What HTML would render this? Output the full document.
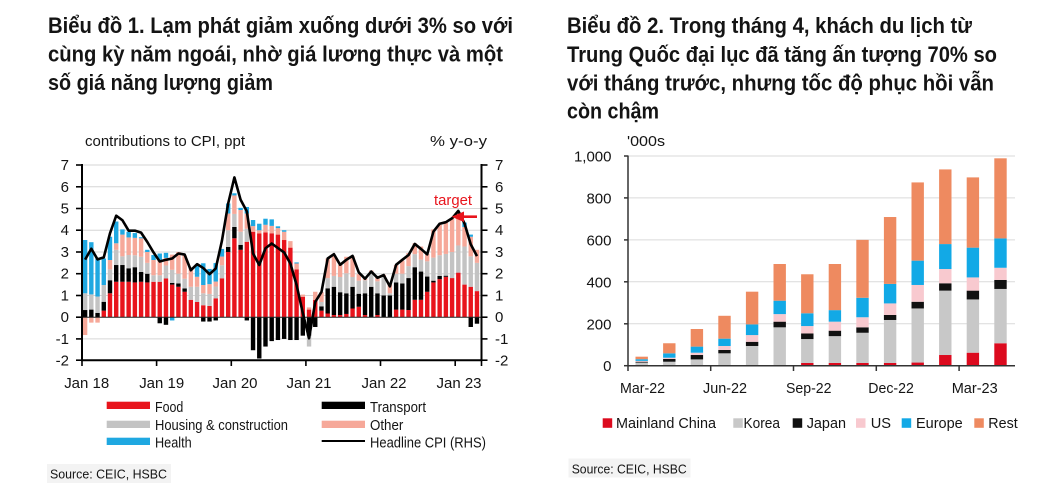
<!DOCTYPE html>
<html><head><meta charset="utf-8">
<style>
html,body{margin:0;padding:0;background:#fff;}
svg{display:block;}
text{font-family:"Liberation Sans","DejaVu Sans",Arial,sans-serif;}
.t{font-weight:bold;font-size:22px;fill:#141414;}
.a{font-size:15px;fill:#141414;}
.s{font-size:13px;fill:#141414;}
</style></head><body>
<svg id="s" width="1046" height="488" viewBox="0 0 1046 488" xmlns="http://www.w3.org/2000/svg">
<rect width="1046" height="488" fill="#fff"/>

<!-- Titles -->
<text class="t" x="48" y="33" textLength="465" lengthAdjust="spacingAndGlyphs">Biểu đồ 1. Lạm phát giảm xuống dưới 3% so với</text>
<text class="t" x="48" y="61.5" textLength="455" lengthAdjust="spacingAndGlyphs">cùng kỳ năm ngoái, nhờ giá lương thực và một</text>
<text class="t" x="48" y="90" textLength="225" lengthAdjust="spacingAndGlyphs">số giá năng lượng giảm</text>

<text class="t" x="567" y="33" textLength="405" lengthAdjust="spacingAndGlyphs">Biểu đồ 2. Trong tháng 4, khách du lịch từ</text>
<text class="t" x="567" y="62" textLength="430" lengthAdjust="spacingAndGlyphs">Trung Quốc đại lục đã tăng ấn tượng 70% so</text>
<text class="t" x="567" y="90.5" textLength="427" lengthAdjust="spacingAndGlyphs">với tháng trước, nhưng tốc độ phục hồi vẫn</text>
<text class="t" x="567" y="118.5" textLength="92" lengthAdjust="spacingAndGlyphs">còn chậm</text>

<!-- LEFT CHART -->
<text class="a" x="85" y="146" textLength="160" lengthAdjust="spacingAndGlyphs">contributions to CPI, ppt</text>
<text class="a" x="430" y="146" textLength="57" lengthAdjust="spacingAndGlyphs">% y-o-y</text>

<g stroke="#d6d6d6" stroke-width="1">
<line x1="82" x2="481.5" y1="165" y2="165"/>
<line x1="82" x2="481.5" y1="186.8" y2="186.8"/>
<line x1="82" x2="481.5" y1="208.5" y2="208.5"/>
<line x1="82" x2="481.5" y1="230.2" y2="230.2"/>
<line x1="82" x2="481.5" y1="252" y2="252"/>
<line x1="82" x2="481.5" y1="273.7" y2="273.7"/>
<line x1="82" x2="481.5" y1="295.5" y2="295.5"/>
<line x1="82" x2="481.5" y1="338.9" y2="338.9"/>
</g>
<g id="lbars"></g>
<line x1="82" x2="481.5" y1="317.2" y2="317.2" stroke="#222" stroke-width="1"/>
<polyline id="cpi" fill="none" stroke="#000" stroke-width="2.6" stroke-linejoin="round"/>

<!-- left axes -->
<g stroke="#000" stroke-width="2">
<line x1="82" x2="82" y1="164" y2="361"/>
<line x1="481.5" x2="481.5" y1="164" y2="361"/>
<line x1="81" x2="482.5" y1="360.2" y2="360.2"/>
</g>
<g stroke="#000" stroke-width="1.6">
<line x1="76" x2="82" y1="165" y2="165"/><line x1="76" x2="82" y1="186.8" y2="186.8"/><line x1="76" x2="82" y1="208.5" y2="208.5"/><line x1="76" x2="82" y1="230.2" y2="230.2"/><line x1="76" x2="82" y1="252" y2="252"/><line x1="76" x2="82" y1="273.7" y2="273.7"/><line x1="76" x2="82" y1="295.5" y2="295.5"/><line x1="76" x2="82" y1="317.2" y2="317.2"/><line x1="76" x2="82" y1="338.9" y2="338.9"/><line x1="76" x2="82" y1="360.2" y2="360.2"/>
<line x1="481.5" x2="487.5" y1="165" y2="165"/><line x1="481.5" x2="487.5" y1="186.8" y2="186.8"/><line x1="481.5" x2="487.5" y1="208.5" y2="208.5"/><line x1="481.5" x2="487.5" y1="230.2" y2="230.2"/><line x1="481.5" x2="487.5" y1="252" y2="252"/><line x1="481.5" x2="487.5" y1="273.7" y2="273.7"/><line x1="481.5" x2="487.5" y1="295.5" y2="295.5"/><line x1="481.5" x2="487.5" y1="317.2" y2="317.2"/><line x1="481.5" x2="487.5" y1="338.9" y2="338.9"/><line x1="481.5" x2="487.5" y1="360.2" y2="360.2"/>
<line x1="82" x2="82" y1="360" y2="366"/><line x1="156.6" x2="156.6" y1="360" y2="366"/><line x1="231.3" x2="231.3" y1="360" y2="366"/><line x1="305.9" x2="305.9" y1="360" y2="366"/><line x1="380.5" x2="380.5" y1="360" y2="366"/><line x1="455.2" x2="455.2" y1="360" y2="366"/><line x1="481.5" x2="481.5" y1="360" y2="366"/>
</g>
<g class="a" text-anchor="end">
<text x="69" y="170">7</text><text x="69" y="191.8">6</text><text x="69" y="213.5">5</text><text x="69" y="235.2">4</text><text x="69" y="257">3</text><text x="69" y="278.7">2</text><text x="69" y="300.5">1</text><text x="69" y="322.2">0</text><text x="69" y="343.9">-1</text><text x="69" y="365.5">-2</text>
</g>
<g class="a" text-anchor="start">
<text x="495" y="170">7</text><text x="495" y="191.8">6</text><text x="495" y="213.5">5</text><text x="495" y="235.2">4</text><text x="495" y="257">3</text><text x="495" y="278.7">2</text><text x="495" y="300.5">1</text><text x="495" y="322.2">0</text><text x="495" y="343.9">-1</text><text x="495" y="365.5">-2</text>
</g>
<g class="a">
<text x="64.2" y="388" textLength="45" lengthAdjust="spacingAndGlyphs">Jan 18</text>
<text x="139.2" y="388" textLength="45" lengthAdjust="spacingAndGlyphs">Jan 19</text>
<text x="212.5" y="388" textLength="45" lengthAdjust="spacingAndGlyphs">Jan 20</text>
<text x="286.5" y="388" textLength="45" lengthAdjust="spacingAndGlyphs">Jan 21</text>
<text x="361.5" y="388" textLength="45" lengthAdjust="spacingAndGlyphs">Jan 22</text>
<text x="436.5" y="388" textLength="45" lengthAdjust="spacingAndGlyphs">Jan 23</text>
</g>

<!-- target annotation -->
<text x="434" y="205" font-size="15" fill="#e8141c" textLength="38" lengthAdjust="spacingAndGlyphs">target</text>
<line x1="462" x2="477" y1="216.7" y2="216.7" stroke="#e8141c" stroke-width="2.6"/>
<polygon points="451.5,216.7 464,211.5 464,222" fill="#e8141c"/>

<!-- left legend -->
<rect x="106.7" y="401.7" width="43.3" height="7.3" fill="#e8141c"/>
<rect x="106.7" y="420.7" width="43.3" height="7.3" fill="#c3c3c3"/>
<rect x="106.7" y="437.7" width="43.3" height="7.3" fill="#1fa8e1"/>
<rect x="321.7" y="401.7" width="43.3" height="7.3" fill="#000"/>
<rect x="321.7" y="420.7" width="43.3" height="7.3" fill="#f6a899"/>
<line x1="321.7" x2="365" y1="441" y2="441" stroke="#000" stroke-width="2"/>
<g class="a">
<text x="155" y="412" textLength="28.3" lengthAdjust="spacingAndGlyphs">Food</text>
<text x="155" y="430" textLength="133" lengthAdjust="spacingAndGlyphs">Housing &amp; construction</text>
<text x="155" y="447.5" textLength="36.7" lengthAdjust="spacingAndGlyphs">Health</text>
<text x="370" y="412" textLength="56" lengthAdjust="spacingAndGlyphs">Transport</text>
<text x="370" y="430" textLength="33.3" lengthAdjust="spacingAndGlyphs">Other</text>
<text x="370" y="447.5" textLength="116" lengthAdjust="spacingAndGlyphs">Headline CPI (RHS)</text>
</g>
<rect x="47" y="464" width="124" height="19" fill="#f3f3f3"/>
<text class="s" x="50" y="478.5" textLength="117" lengthAdjust="spacingAndGlyphs">Source: CEIC, HSBC</text>

<!-- RIGHT CHART -->
<text class="a" x="627" y="146" font-size="14.5" textLength="38" lengthAdjust="spacingAndGlyphs">'000s</text>
<g stroke="#dadada" stroke-width="1">
<line x1="628" x2="1015" y1="156" y2="156"/>
<line x1="628" x2="1015" y1="197.9" y2="197.9"/>
<line x1="628" x2="1015" y1="239.9" y2="239.9"/>
<line x1="628" x2="1015" y1="281.8" y2="281.8"/>
<line x1="628" x2="1015" y1="323.8" y2="323.8"/>
</g>
<g id="rbars"></g>
<g stroke="#333" stroke-width="1.5">
<line x1="628" x2="628" y1="155.5" y2="366"/>
<line x1="627.3" x2="1015" y1="365.7" y2="365.7"/>
<line x1="624" x2="628" y1="156" y2="156"/><line x1="624" x2="628" y1="197.9" y2="197.9"/><line x1="624" x2="628" y1="239.9" y2="239.9"/><line x1="624" x2="628" y1="281.8" y2="281.8"/><line x1="624" x2="628" y1="323.8" y2="323.8"/><line x1="624" x2="628" y1="365.7" y2="365.7"/>
<line x1="628" x2="628" y1="365.7" y2="371"/><line x1="710.7" x2="710.7" y1="365.7" y2="371"/><line x1="793.5" x2="793.5" y1="365.7" y2="371"/><line x1="876.3" x2="876.3" y1="365.7" y2="371"/><line x1="959.1" x2="959.1" y1="365.7" y2="371"/>
</g>
<g class="a" text-anchor="end">
<text x="611.5" y="161.5">1,000</text>
<text x="611.5" y="203.4">800</text>
<text x="611.5" y="245.4">600</text>
<text x="611.5" y="287.3">400</text>
<text x="611.5" y="329.3">200</text>
<text x="611.5" y="371.2">0</text>
</g>
<g class="a">
<text x="620" y="393" textLength="45" lengthAdjust="spacingAndGlyphs">Mar-22</text>
<text x="703" y="393" textLength="44" lengthAdjust="spacingAndGlyphs">Jun-22</text>
<text x="786" y="393" textLength="45.5" lengthAdjust="spacingAndGlyphs">Sep-22</text>
<text x="868.3" y="393" textLength="45.5" lengthAdjust="spacingAndGlyphs">Dec-22</text>
<text x="951.7" y="393" textLength="46" lengthAdjust="spacingAndGlyphs">Mar-23</text>
</g>
<!-- right legend -->
<rect x="602.7" y="418.3" width="9.5" height="9.5" fill="#dc0a1e"/>
<rect x="733.3" y="418.3" width="9.5" height="9.5" fill="#c8c8c8"/>
<rect x="792.7" y="418.3" width="9.5" height="9.5" fill="#111"/>
<rect x="856" y="418.3" width="9.5" height="9.5" fill="#f8c9cf"/>
<rect x="901.7" y="418.3" width="9.5" height="9.5" fill="#12a9e6"/>
<rect x="974.3" y="418.3" width="9.5" height="9.5" fill="#ee8a60"/>
<g class="a">
<text x="616" y="428" textLength="100" lengthAdjust="spacingAndGlyphs">Mainland China</text>
<text x="743.5" y="428" textLength="36.5" lengthAdjust="spacingAndGlyphs">Korea</text>
<text x="806.7" y="428" textLength="39.3" lengthAdjust="spacingAndGlyphs">Japan</text>
<text x="870.7" y="428" textLength="20.3" lengthAdjust="spacingAndGlyphs">US</text>
<text x="916" y="428" textLength="46.7" lengthAdjust="spacingAndGlyphs">Europe</text>
<text x="988.3" y="428" textLength="29.4" lengthAdjust="spacingAndGlyphs">Rest</text>
</g>
<rect x="568.5" y="458.5" width="122" height="19" fill="#f3f3f3"/>
<text class="s" x="571.7" y="473.5" textLength="115" lengthAdjust="spacingAndGlyphs">Source: CEIC, HSBC</text>
</svg>
<script>
(function(){
var NS="http://www.w3.org/2000/svg";
function R(g,x,y,w,h,f){if(h<=0.01)return;var r=document.createElementNS(NS,"rect");r.setAttribute("x",x.toFixed(2));r.setAttribute("y",y.toFixed(2));r.setAttribute("width",w);r.setAttribute("height",h.toFixed(2));r.setAttribute("fill",f);g.appendChild(r);}
var L=[
[0,0.33,0.77,-0.82,2.45],[0,0.35,0.7,-0.25,2.4],[0,0.2,0.75,-0.25,1.75],[0.3,0.41,0.77,0,1.22],
[1.1,0.6,0.5,0.43,1.07],[1.63,0.77,0.7,0.3,1.0],[1.63,0.77,0.4,1.0,0.24],[1.63,0.62,0.61,0.81,0.26],
[1.6,0.7,0.55,0.8,0.22],[1.63,0.45,0.7,0.85,0.05],[1.6,0.4,0.5,0.5,0.1],[1.63,0,0.3,0.7,0.23],
[1.63,-0.28,0.3,0.7,0.3],[1.78,-0.35,0.6,0.35,0.23],[1.5,0.08,0.6,0.7,-0.15],[1.4,0.15,0.45,1.0,0],
[1.17,0.15,0.45,1.07,0],[0.8,0,0.6,0.9,0],[0.7,0,0.7,0.46,0.54],[0.55,-0.2,0.55,0.38,1.0],
[0.52,-0.2,0.55,0.45,0.7],[0.87,-0.15,0.54,0.23,0.85],[1.79,0,0.6,0.4,0.35],[3.0,0.23,0.77,0.77,0.46],
[3.63,0.52,0.6,0.85,0.1],[3.1,0.23,0.6,1.0,0.1],[3.47,-0.15,0.6,0.7,0.3],[3.93,-1.52,0,0.26,0.28],
[3.85,-1.9,0,0.15,0.3],[3.9,-1.35,0,0.35,0.28],[3.86,-1.1,0,0.34,0.3],[3.8,-1.05,0,0.3,0.08],
[3.55,-1.0,0,0.38,0.07],[3.2,-1.05,0,0.3,0],[2.2,-1.05,0,0.27,0.05],[0.94,-0.85,0,0.1,0],
[0.35,-0.85,-0.5,0.1,0],[0.8,-0.45,0,0.37,0],[0.3,0.2,0.2,0.45,0],[0.17,1.16,0.47,0.9,0],
[0.1,1.3,0.5,0.95,0],[0.1,1.05,0.7,0.55,0],[0.15,0.95,0.92,0.76,0],[0.4,1.0,0.45,0.95,0],
[0.48,0.6,0.6,0.3,0],[0.1,1.0,0.6,0.1,0],[0,1.4,0.6,0.15,0],[0.1,1.0,0.55,0.2,0],
[0,1.0,0.85,0.1,0],[0,1.0,0.1,0.4,0],[0.35,1.25,0.4,0.4,0],[0.35,1.2,0.45,0.6,0],
[0.33,1.47,0.55,0.6,0],[0.8,1.5,0.6,0.5,0],[0.8,1.3,0.55,0.6,0],[1.17,0.7,0.7,0.35,0],
[1.6,0.08,1.06,1.3,0],[1.75,0.15,0.95,1.4,0],[1.86,0.05,1.0,1.45,0],[1.8,0,1.2,1.55,0],
[2.05,0,1.25,1.55,0],[1.5,0,1.75,0.9,0.2],[1.4,-0.45,1.4,0.9,0.1],[1.2,-0.3,1.3,0.6,0]];
var CPI=[2.65,3.15,2.66,2.75,3.86,4.67,4.46,3.98,3.98,3.89,3.46,2.98,
2.56,2.64,2.70,2.93,2.88,2.16,2.44,2.26,1.98,2.24,3.52,5.23,
6.43,5.40,4.87,2.93,2.40,3.17,3.39,3.18,2.98,2.47,1.48,0.19,
-0.97,0.70,1.16,2.70,2.90,2.41,2.64,2.82,2.06,1.77,2.10,1.81,
1.94,1.42,2.41,2.64,2.86,3.37,3.14,2.89,3.94,4.30,4.37,4.55,
4.89,4.31,3.35,2.81];
var K=21.74,Z=317.2;
function Ly(v){return Z-K*v;}
var cols=["#e8141c","#000000","#c3c3c3","#f6a899","#1fa8e1"];
var g=document.getElementById("lbars");
var W=4.4;
for(var i=0;i<L.length;i++){
  var cx=82+6.22*(i+0.5),pos=0,neg=0,d=L[i];
  for(var j=0;j<d.length;j++){var v=d[j];
    if(v>0){R(g,cx-W/2,Ly(pos+v),W,K*v,cols[j]);pos+=v;}
    else if(v<0){R(g,cx-W/2,Ly(neg),W,-K*v,cols[j]);neg+=v;}
  }
}
var pts=[];
for(var i=0;i<CPI.length;i++){pts.push((82+6.22*(i+0.5)).toFixed(2)+","+Ly(CPI[i]).toFixed(2));}
document.getElementById("cpi").setAttribute("points",pts.join(" "));
/* right chart: cumulative tops */
var T=[[0,15,19,23,31,43],[0,19,32,38,59,107],[0,30,51,62,91,175],[0,59,75,94,129,238],
[0,94,114,146,197,353],[0,183,210,246,310,485],[13,127,154,189,250,436],[13,141,167,210,265,485],
[13,157,183,231,324,600],[13,218,242,297,390,709],[15,273,305,385,501,874],[51,358,393,461,580,936],
[62,316,358,421,563,898],[107,366,409,467,607,989]];
var rc=["#dc0a1e","#c8c8c8","#111111","#f8c9cf","#12a9e6","#ee8a60"];
var rg=document.getElementById("rbars");
function Ry(v){return 365.7-0.2097*v;}
var BW=12.4;
for(var k=0;k<T.length;k++){
  var cx=641.7+27.6*k,prev=0;
  for(var j=0;j<6;j++){var top=T[k][j];
    if(top>prev){R(rg,cx-BW/2,Ry(top),BW,Ry(prev)-Ry(top),rc[j]);}
    if(top>prev)prev=top;
  }
}
})();
</script>
</body></html>
